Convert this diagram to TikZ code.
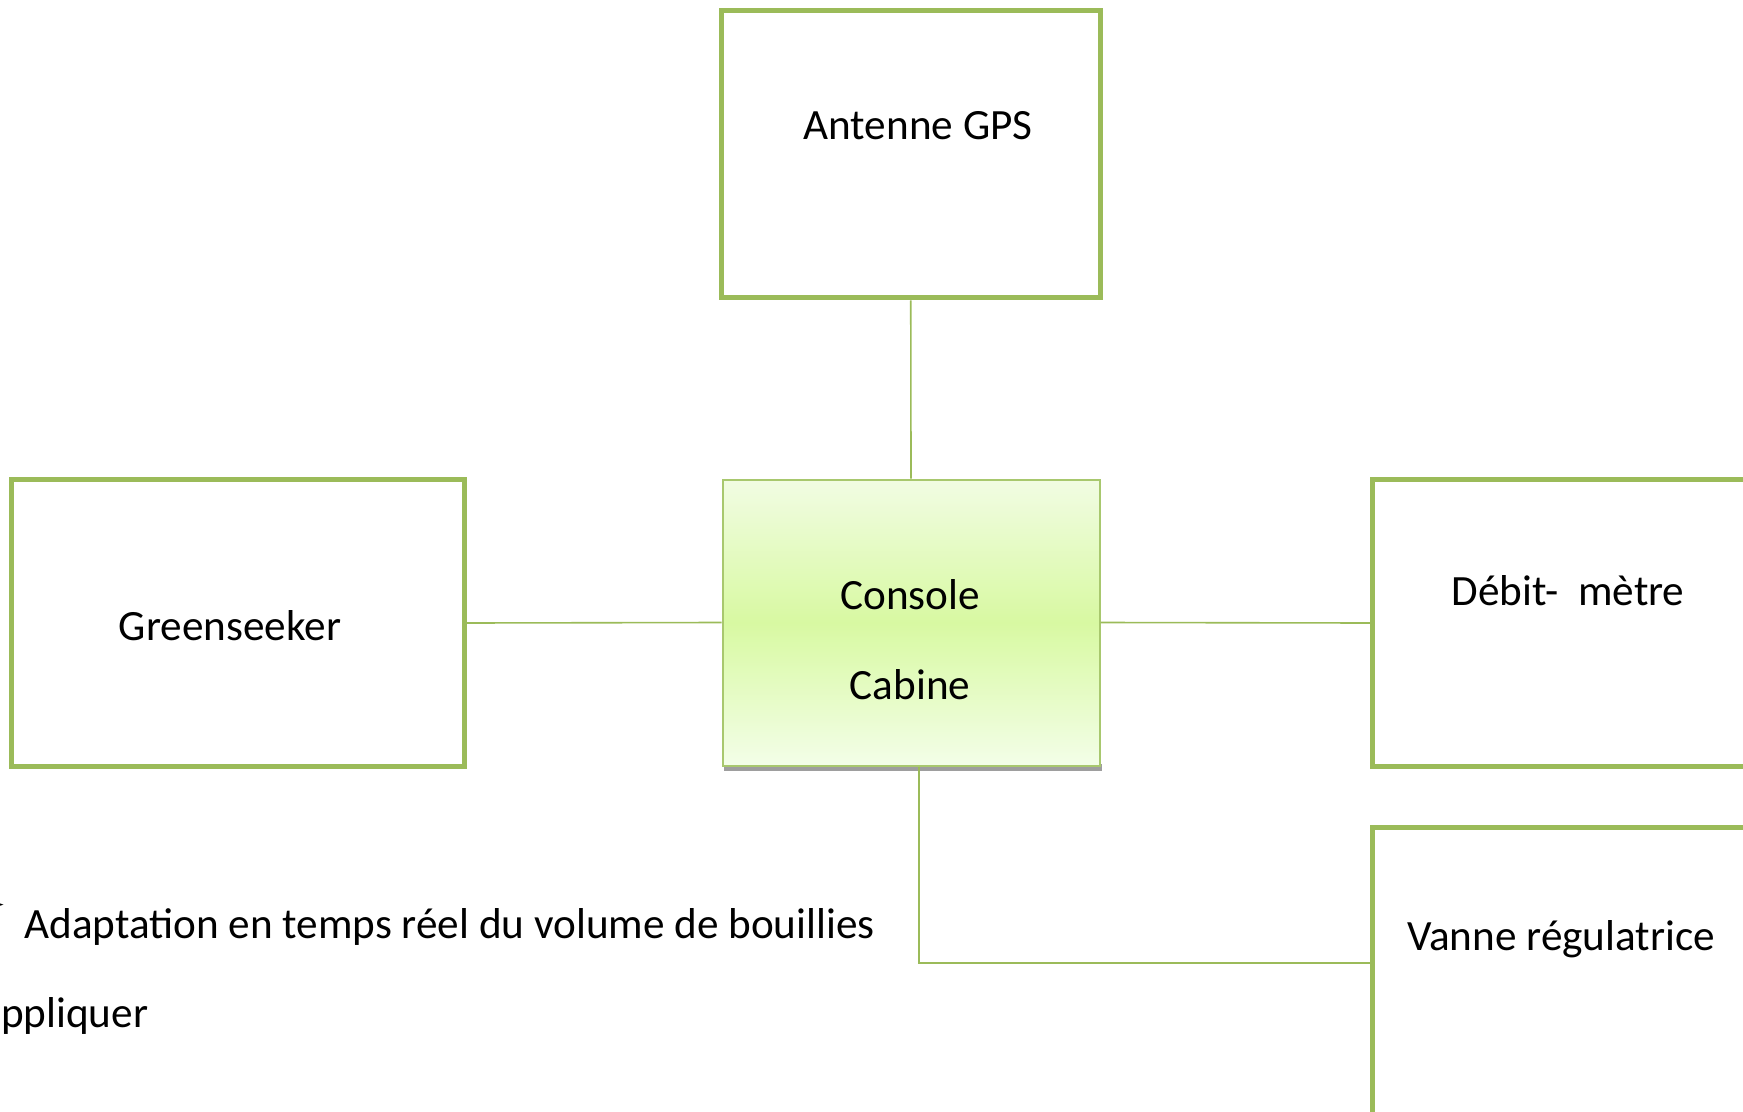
\documentclass[tikz,border=0pt]{standalone}
\usepackage{fontspec}
\setmainfont{Carlito}
\newfontfamily\dingfont{DejaVu Sans}
\definecolor{vert}{HTML}{9BBB59}
\definecolor{vertclair}{HTML}{A8C86E}
\definecolor{consHaut}{HTML}{F1FCE3}
\definecolor{consMilieu}{HTML}{D8F9A2}
\definecolor{consBas}{HTML}{F3FEE8}
\begin{document}
\begin{tikzpicture}[x=0.5pt,y=-0.5pt,
  boite/.style={draw=vert, line width=2.5pt, rectangle, inner sep=0pt},
  lien/.style={draw=vert, line width=0.8pt},
  texte/.style={font=\fontsize{21.6}{27}\selectfont, inner sep=0pt}]
\clip (0,0) rectangle (1743,1112);

\node(gps)[boite, minimum width=189.25pt, minimum height=143.75pt] at (910.75,154.25) {};
\node(green)[boite, minimum width=226.5pt, minimum height=143.5pt] at (238,623) {};
\node(debit)[boite, minimum width=208.75pt, minimum height=143.5pt] at (1581.25,623) {};
\node(vanne)[boite, minimum width=208.75pt, minimum height=146.25pt] at (1581.25,973.75) {};

% ombre de la console
\fill[black!38] (724,764) rectangle (1102,771);
\node(cons)[draw=vertclair, line width=1pt, rectangle, inner sep=0pt,
  top color=consHaut, bottom color=consBas, middle color=consMilieu,
  minimum width=188.5pt, minimum height=143pt] at (911,622.5) {};

\node(gpsT)[texte] at (918,126) {Antenne GPS};
\node(greenT)[texte] at (230,626) {Greenseeker};
\node(consA)[texte] at (910,595) {Console};
\node(consB)[texte] at (910,685) {Cabine};
\node(debitT)[texte] at (1568,591) {Débit-\ \ mètre};
\node(vanneT)[texte] at (1561,939) {Vanne régulatrice};

\coordinate(vanneIn) at (1372.5,963);
\draw[lien] (gps.south) -- (cons.north);
\draw[lien] (green.east) -- (cons.west);
\draw[lien] (cons.east) -- (debit.west);
\draw[lien, line width=1pt] ([xshift=4pt]cons.south) |- (vanneIn);

\node(puce)[font=\dingfont\fontsize{15}{15}\selectfont, anchor=east, inner sep=0pt] at (6,906) {➢};
\node(adapt)[texte, anchor=base west] at (24,938) {Adaptation en temps réel du volume de bouillies};
\node(appl)[texte, anchor=base west] at (-20,1027) {appliquer};
\end{tikzpicture}
\end{document}
